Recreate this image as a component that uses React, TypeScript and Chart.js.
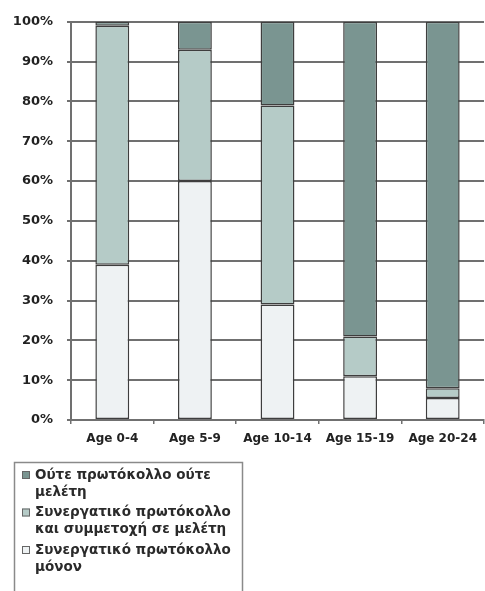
import React, { useEffect, useRef } from "react";
import { Chart, registerables } from "chart.js";

Chart.register(...registerables);

const categories = ["Age 0-4", "Age 5-9", "Age 10-14", "Age 15-19", "Age 20-24"];
const protocolOnly = [39, 60, 29, 11, 5.5];
const protocolAndStudy = [60, 33, 50, 10, 2.5];
const neither = [1, 7, 21, 79, 92];
const yTicks = [0, 10, 20, 30, 40, 50, 60, 70, 80, 90, 100];

const labelNeither = ["Ούτε πρωτόκολλο ούτε", "μελέτη"];
const labelBoth = ["Συνεργατικό πρωτόκολλο", "και συμμετοχή σε μελέτη"];
const labelOnly = ["Συνεργατικό πρωτόκολλο", "μόνον"];

const FONT = "'DejaVu Sans', sans-serif";

const legendPlugin = {
  id: "boxLegend",
  afterDraw(chart: any) {
    const ctx = chart.ctx;
    ctx.save();
    ctx.strokeStyle = "#8a8a8a";
    ctx.lineWidth = 1.5;
    ctx.strokeRect(14.5, 462.5, 228, 140);
    const ds = chart.data.datasets.slice().reverse();
    let y = 475;
    ctx.font = "bold 13.5px " + FONT;
    ctx.textBaseline = "middle";
    ctx.textAlign = "left";
    ds.forEach((d: any) => {
      ctx.fillStyle = d.backgroundColor;
      ctx.fillRect(22, y - 4, 8, 8);
      ctx.strokeStyle = "#666";
      ctx.lineWidth = 1;
      ctx.strokeRect(22.5, y - 3.5, 7, 7);
      ctx.fillStyle = "#2a2a2a";
      (d.legendLines as string[]).forEach((line: string, i: number) => {
        ctx.fillText(line, 35, y + i * 17);
      });
      y += 37.5;
    });
    ctx.restore();
  },
};

export default function App() {
  const ref = useRef<HTMLCanvasElement>(null);
  useEffect(() => {
    if (!ref.current) return;
    const common = {
      borderColor: "#3e3e3e",
      borderWidth: 1.5,
      borderSkipped: false,
      barPercentage: 0.41,
      categoryPercentage: 1,
    };
    const chart = new Chart(ref.current, {
      type: "bar",
      data: {
        labels: categories,
        datasets: [
          { label: labelOnly.join(" "), legendLines: labelOnly, data: protocolOnly, backgroundColor: "#eef2f3", ...common } as any,
          { label: labelBoth.join(" "), legendLines: labelBoth, data: protocolAndStudy, backgroundColor: "#b5cbc7", ...common } as any,
          { label: labelNeither.join(" "), legendLines: labelNeither, data: neither, backgroundColor: "#7a9591", ...common } as any,
        ],
      },
      options: {
        responsive: false,
        animation: false,
        layout: { padding: { top: 19, right: 0, bottom: 0, left: 0 } },
        plugins: { legend: { display: false }, tooltip: { enabled: false } },
        scales: {
          x: {
            stacked: true,
            afterFit: (s: any) => { s.height = 171; },
            grid: { display: true, drawOnChartArea: false, offset: true, tickLength: 4, color: "#707070", lineWidth: 1.5 },
            border: { display: true, color: "#707070", width: 2 },
            ticks: { padding: 8, color: "#222", font: { family: FONT, size: 12, weight: "bold" } },
          },
          y: {
            stacked: true,
            min: 0,
            max: 100,
            afterFit: (s: any) => { s.width = 71; },
            afterBuildTicks: (s: any) => { s.ticks = yTicks.map((v) => ({ value: v })); },
            grid: { color: "#707070", lineWidth: 2, tickLength: 4 },
            border: { display: true, color: "#707070", width: 2 },
            ticks: { padding: 14, color: "#222", font: { family: FONT, size: 13, weight: "bold" }, callback: (v: any) => v + "%" },
          },
        },
      },
      plugins: [legendPlugin],
    } as any);
    return () => chart.destroy();
  }, []);
  return (
    <div style={{ position: "absolute", left: 0, top: 0 }}>
      <canvas ref={ref} width={485} height={591} style={{ display: "block" }} />
    </div>
  );
}
